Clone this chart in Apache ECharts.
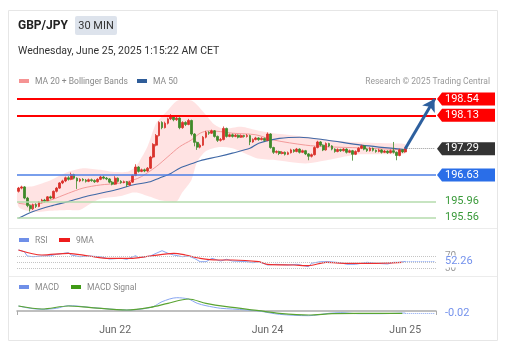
<!DOCTYPE html>
<html><head><meta charset="utf-8">
<script src="https://cdn.jsdelivr.net/npm/echarts@6/dist/echarts.min.js"></script>
<style>html,body{margin:0;padding:0;background:#fff}#c{width:515px;height:350px}</style>
</head><body><div id="c"></div>
<script>
// ---- data ----
// candles: [open, close, low, high]
const candles = [
[196.22,196.30,196.19,196.33],[196.30,196.33,196.27,196.36],[196.33,196.05,196.02,196.35],[196.05,195.86,195.82,196.08],
[195.86,195.78,195.71,195.89],[195.78,195.88,195.75,195.91],[195.88,195.84,195.80,195.92],[195.84,195.95,195.82,195.97],
[195.95,196.00,195.92,196.03],[196.00,195.97,195.94,196.03],[195.97,196.08,195.95,196.10],[196.08,196.05,196.02,196.11],
[196.05,196.22,196.03,196.24],[196.22,196.30,196.19,196.33],[196.30,196.43,196.28,196.45],[196.43,196.48,196.40,196.51],
[196.48,196.56,196.45,196.59],[196.56,196.52,196.49,196.60],[196.52,196.64,196.50,196.69],[196.64,196.55,196.52,196.66],
[196.55,196.48,196.28,196.57],[196.48,196.52,196.45,196.55],[196.52,196.50,196.47,196.55],[196.50,196.47,196.44,196.53],
[196.47,196.51,196.45,196.54],[196.51,196.49,196.46,196.54],[196.49,196.46,196.43,196.52],[196.46,196.52,196.44,196.55],
[196.52,196.58,196.50,196.61],[196.58,196.55,196.52,196.61],[196.55,196.53,196.50,196.58],[196.53,196.45,196.42,196.55],
[196.45,196.40,196.37,196.48],[196.40,196.55,196.38,196.60],[196.55,196.47,196.44,196.57],[196.47,196.44,196.41,196.50],
[196.44,196.46,196.42,196.49],[196.46,196.38,196.33,196.48],[196.38,196.45,196.36,196.48],[196.45,196.62,196.43,196.64],
[196.62,196.83,196.60,196.90],[196.83,196.72,196.69,196.85],[196.72,196.76,196.70,196.79],[196.76,196.73,196.70,196.79],
[196.73,196.80,196.71,196.83],[196.80,197.08,196.78,197.11],[197.08,197.40,197.05,197.43],[197.38,197.62,197.35,197.66],
[197.62,197.95,197.60,197.98],[197.95,197.82,197.78,197.98],[197.82,197.93,197.80,197.97],[197.93,198.04,197.90,198.07],
[198.04,198.10,198.01,198.16],[198.10,198.02,197.98,198.13],[198.02,198.06,197.99,198.10],[198.06,197.82,197.78,198.08],
[197.82,197.95,197.79,197.98],[197.95,197.90,197.86,197.98],[197.90,198.00,197.88,198.04],[198.00,197.66,197.62,198.02],
[197.66,197.45,197.35,197.68],[197.45,197.33,197.26,197.47],[197.33,197.38,197.30,197.42],[197.38,197.58,197.36,197.61],
[197.58,197.70,197.55,197.74],[197.70,197.68,197.64,197.73],[197.68,197.74,197.66,197.77],[197.74,197.60,197.57,197.76],
[197.60,197.50,197.46,197.62],[197.50,197.52,197.47,197.56],[197.52,197.80,197.50,197.85],[197.80,197.60,197.57,197.82],
[197.60,197.64,197.58,197.67],[197.64,197.60,197.57,197.67],[197.60,197.63,197.58,197.66],[197.63,197.58,197.55,197.65],
[197.58,197.62,197.56,197.65],[197.62,197.60,197.57,197.64],[197.60,197.62,197.57,197.66],[197.62,197.46,197.38,197.64],
[197.46,197.52,197.44,197.55],[197.52,197.56,197.50,197.59],[197.56,197.52,197.49,197.58],[197.52,197.55,197.50,197.58],
[197.55,197.50,197.47,197.57],[197.50,197.66,197.48,197.70],[197.66,197.32,197.29,197.68],[197.32,197.20,197.16,197.34],
[197.20,197.22,197.17,197.25],[197.22,197.17,197.13,197.24],[197.17,197.20,197.15,197.23],[197.20,197.15,197.12,197.22],
[197.15,197.19,197.13,197.22],[197.19,197.26,197.17,197.29],[197.26,197.22,197.19,197.28],[197.22,197.28,197.20,197.31],
[197.28,197.20,197.17,197.30],[197.20,197.24,197.18,197.27],[197.24,197.16,197.13,197.26],[197.16,197.10,197.00,197.18],
[197.10,197.14,197.07,197.17],[197.14,197.32,197.12,197.35],[197.32,197.46,197.30,197.49],[197.46,197.38,197.35,197.48],
[197.38,197.26,197.23,197.40],[197.26,197.42,197.24,197.45],[197.42,197.36,197.33,197.44],[197.36,197.28,197.25,197.38],
[197.28,197.22,197.19,197.30],[197.22,197.27,197.20,197.30],[197.27,197.24,197.21,197.29],[197.24,197.28,197.22,197.31],
[197.28,197.20,197.17,197.30],[197.20,197.24,197.18,197.27],[197.24,197.15,196.99,197.26],[197.15,197.22,197.13,197.25],
[197.22,197.30,197.20,197.33],[197.30,197.36,197.28,197.39],[197.36,197.28,197.25,197.38],[197.28,197.24,197.21,197.30],
[197.24,197.30,197.22,197.33],[197.30,197.25,197.22,197.32],[197.25,197.22,197.19,197.27],[197.22,197.26,197.20,197.29],
[197.26,197.20,197.17,197.28],[197.20,197.23,197.18,197.26],[197.23,197.19,197.16,197.25],[197.19,197.24,197.17,197.27],
[197.24,197.20,197.17,197.46],[197.20,197.12,197.00,197.22],[197.12,197.26,197.10,197.29],[197.26,197.21,197.18,197.28],
[197.21,197.29,197.19,197.31]
];
const slotCount = 143;                 // candle slots incl. empty projection space
const tickIndex = [33, 85, 132];
const tickLabels = ['Jun 22', 'Jun 24', 'Jun 25'];

const ma20 = [[0,195.92],[5,195.88],[11,196.00],[17,196.17],[22,196.30],[28,196.38],[34,196.42],[39,196.50],[42,196.59],
  [47,196.84],[51,197.09],[55,197.34],[59,197.51],[62,197.68],[65,197.74],[69,197.72],[73,197.68],[81,197.64],[87,197.51],
  [98,197.38],[105,197.34],[117,197.31],[132,197.26]];
const ma50 = [[0,195.54],[5,195.71],[11,195.85],[17,195.96],[22,196.07],[28,196.17],[34,196.27],[39,196.38],[45,196.46],
  [48,196.55],[52,196.67],[55,196.80],[59,196.91],[62,196.99],[68,197.09],[73,197.18],[79,197.30],[82,197.43],[89,197.55],
  [96,197.58],[105,197.51],[117,197.38],[132,197.27]];
const bbUpper = [[0,196.30],[5,196.35],[11,196.50],[17,196.71],[22,196.80],[28,196.76],[32,196.71],[37,196.71],[40,196.84],
  [44,197.34],[47,197.93],[51,198.26],[54,198.49],[57,198.54],[60,198.46],[64,198.14],[67,197.89],[70,197.79],[76,197.84],
  [82,197.74],[87,197.68],[98,197.59],[106,197.51],[116,197.45],[128,197.42],[132,197.40]];
const bbLower = [[0,195.83],[5,195.70],[11,195.73],[17,195.75],[21,195.75],[24,195.88],[28,196.03],[35,196.10],[39,196.19],
  [41,196.18],[45,196.08],[48,196.00],[52,195.96],[54,195.96],[56,196.20],[59,196.50],[61,196.96],[64,197.23],[68,197.33],
  [73,197.30],[81,197.06],[87,197.01],[98,196.92],[106,197.01],[112,197.10],[116,197.15],[128,197.15],[132,197.17]];

const rsi = [[0,89.5],[2,84.0],[3,70],[5,67.7],[8,70],[11,71],[13,75.5],[17,80.7],[18,73.3],[21,67.7],[24,70],[28,67.7],
  [31,60.2],[35,62.5],[37,59.3],[40,71],[41,64.5],[45,70],[47,78.8],[49,87.2],[51,78.8],[53,73.3],[56,67.7],[58,70],
  [60,62.5],[62,51.5],[64,51.5],[66,62.5],[69,53.7],[71,59.3],[73,53.7],[78,51.5],[80,48.2],[82,51.5],[85,40.7],[88,43],
  [92,40.7],[95,43],[99,35.2],[100,46.3],[103,51.5],[106,51.5],[110,48.2],[112,43],[115,43],[119,49.5],[122,46.3],
  [126,44],[128,49.5],[130,49.5],[132,52.26]];
const rsiMa = [[0,89.5],[8,73.3],[17,78.8],[24,70],[31,62.5],[39,62.5],[45,70],[53,78.8],[57,73.3],[62,62.5],[68,57],
  [73,57],[82,51.5],[85,43],[94,40.7],[99,38.5],[105,49.5],[112,46.3],[120,46.3],[131,49.5]];
const rsiLevels = [70, 50, 30];
const rsiLast = 52.26;

const macd = [[0,0.05],[4,0.027],[8,0.017],[13,0.027],[17,0.053],[20,0.05],[24,0.037],[31,0.02],[37,0.01],[42,0.02],
  [46,0.043],[49,0.093],[54,0.133],[58,0.12],[61,0.077],[64,0.053],[69,0.027],[73,0.02],[78,0.01],[82,0.0],[89,-0.033],
  [99,-0.047],[106,-0.023],[110,-0.017],[116,-0.027],[123,-0.027],[132,-0.02]];
const macdSignal = [[0,0.05],[8,0.02],[17,0.05],[24,0.037],[37,0.01],[45,0.037],[51,0.077],[58,0.12],[64,0.077],
  [71,0.043],[82,0.003],[89,-0.023],[99,-0.04],[107,-0.027],[116,-0.023],[131,-0.023]];
const macdLast = -0.02;

const resistanceLevels = [198.54, 198.13];
const lastPrice = 197.29;
const supportLevels = [196.63];
const minorSupport = [195.96, 195.56];
const targetPrice = 198.54;

// ---- chart ----
const FONT = 'Roboto, "Liberation Sans", sans-serif';
const cats = Array.from({length: slotCount}, (_, i) => String(i));
const lastIdx = candles.length - 1;
const endIdx = slotCount - 1;

const tags = [
  {v: resistanceLevels[0], bg: '#ff0000'},
  {v: resistanceLevels[1], bg: '#ff0000'},
  {v: lastPrice, bg: '#333333'},
  {v: supportLevels[0], bg: '#2a6ee8'},
  {v: minorSupport[0], color: '#3a9a3a'},
  {v: minorSupport[1], color: '#3a9a3a'}
];

function tagItem(params, api) {
  const t = tags[params.dataIndex];
  const y = api.coord([0, t.v])[1];
  const cs = params.coordSys;
  const x0 = cs.x + cs.width + 1;
  if (t.bg) {
    return {type: 'group', children: [
      {type: 'polygon', shape: {points: [[x0, y], [x0 + 5, y - 6.5], [x0 + 58, y - 6.5], [x0 + 58, y + 6.5], [x0 + 5, y + 6.5]]},
        style: {fill: t.bg}},
      {type: 'text', x: x0 + 8, y: y, style: {text: t.v.toFixed(2), fill: '#fff', font: '11px ' + FONT, verticalAlign: 'middle', align: 'left'}}
    ]};
  }
  return {type: 'text', x: x0 + 8, y: y, style: {text: t.v.toFixed(2), fill: t.color, font: '11px ' + FONT, verticalAlign: 'middle', align: 'left'}};
}

function bandItem(params, api) {
  const pts = bbUpper.map(p => api.coord(p)).concat(bbLower.slice().reverse().map(p => api.coord(p)));
  return {type: 'polygon', shape: {points: pts, smooth: 0.25}, style: {fill: 'rgba(255,70,70,0.15)'}};
}

const rsiTags = [
  {v: 70, text: '70', color: '#999', size: 10},
  {v: 30, text: '30', color: '#999', size: 10},
  {v: rsiLast, text: rsiLast.toFixed(2), color: '#7391ec', size: 11, bg: '#fff'}
];
function rsiTagItem(params, api) {
  const t = rsiTags[params.dataIndex];
  const y = api.coord([0, t.v])[1];
  const cs = params.coordSys;
  const x0 = cs.x + cs.width + 1;
  const st = {text: t.text, fill: t.color, font: t.size + 'px ' + FONT, verticalAlign: 'middle', align: 'left'};
  if (t.bg) { st.backgroundColor = t.bg; st.padding = [1, 2, 0, 0]; }
  return {type: 'text', x: x0 + 8, y: y, style: st};
}
function macdTagItem(params, api) {
  const y = api.coord([0, macdLast])[1];
  const cs = params.coordSys;
  return {type: 'text', x: cs.x + cs.width + 9, y: y, style: {text: macdLast.toFixed(2), fill: '#7391ec', font: '11px ' + FONT, verticalAlign: 'middle'}};
}

const gl = 17, gw = 419;
const hidden = {show: false};
const chart = echarts.init(document.getElementById('c'), null, {renderer: 'canvas'});
chart.setOption({
  animation: false,
  backgroundColor: '#fff',
  textStyle: {fontFamily: FONT},
  grid: [
    {left: gl, top: 90, width: gw, height: 135},
    {left: gl, top: 245, width: gw, height: 28},
    {left: gl, top: 285, width: gw, height: 33}
  ],
  xAxis: [
    {type: 'category', gridIndex: 0, data: cats, boundaryGap: true, show: false},
    {type: 'category', gridIndex: 1, data: cats, boundaryGap: true, show: false},
    {type: 'category', gridIndex: 2, data: cats, boundaryGap: true,
      axisLine: {show: true, lineStyle: {color: '#aaa', width: 1.5}},
      axisTick: {show: true, length: 4, interval: (i) => i === 0, lineStyle: {color: '#aaa'}},
      axisLabel: {interval: (i) => tickIndex.includes(i), formatter: (v, i) => tickLabels[tickIndex.indexOf(Number(v))] || '',
        color: '#666', fontSize: 10.5, margin: 7, fontFamily: FONT},
      splitLine: hidden}
  ],
  yAxis: [
    {type: 'value', gridIndex: 0, min: 195.373, max: 198.766, show: false, splitLine: hidden},
    {type: 'value', gridIndex: 1, min: 14.72, max: 105.77, show: false, splitLine: hidden},
    {type: 'value', gridIndex: 2, min: -0.07, max: 0.26, show: false, splitLine: hidden}
  ],
  series: [
    {type: 'custom', xAxisIndex: 0, yAxisIndex: 0, renderItem: bandItem, data: [[0, 197]], z: 1, silent: true},
    {type: 'line', xAxisIndex: 0, yAxisIndex: 0, data: ma20, showSymbol: false, smooth: 0.3, z: 2,
      lineStyle: {color: '#f39a9a', width: 1}, silent: true},
    {type: 'line', xAxisIndex: 0, yAxisIndex: 0, data: ma50, showSymbol: false, smooth: 0.3, z: 2,
      lineStyle: {color: '#3f68a6', width: 1.1}, silent: true},
    {type: 'candlestick', xAxisIndex: 0, yAxisIndex: 0, data: candles, barWidth: 2.2, z: 3,
      itemStyle: {color: '#d9312b', color0: '#3f8a2a', borderColor: '#d9312b', borderColor0: '#3f8a2a', borderWidth: 0.8},
      markLine: {silent: true, symbol: 'none', label: {show: false}, animation: false,
        data: [
          {yAxis: resistanceLevels[0], lineStyle: {color: '#ff0000', width: 2, type: 'solid'}},
          {yAxis: resistanceLevels[1], lineStyle: {color: '#ff0000', width: 2, type: 'solid'}},
          {yAxis: supportLevels[0], lineStyle: {color: '#4d7fe6', width: 1.5, type: 'solid'}},
          {yAxis: minorSupport[0], lineStyle: {color: '#b4dbad', width: 1.5, type: 'solid'}},
          {yAxis: minorSupport[1], lineStyle: {color: '#b4dbad', width: 1.5, type: 'solid'}},
          [{coord: [lastIdx, lastPrice], lineStyle: {color: '#999', width: 1, type: 'dotted'}}, {coord: [endIdx, lastPrice]}],
          [{coord: [lastIdx, lastPrice], symbol: 'none', lineStyle: {color: '#2d5f9e', width: 3, type: 'solid'}},
           {coord: [endIdx, targetPrice], symbol: 'arrow', symbolSize: [11, 12]}]
        ]}},
    {type: 'custom', xAxisIndex: 0, yAxisIndex: 0, renderItem: tagItem, data: tags.map(t => [endIdx, t.v]), z: 10, silent: true},

    {type: 'line', xAxisIndex: 1, yAxisIndex: 1, data: rsi, showSymbol: false, z: 3,
      lineStyle: {color: '#88a6f2', width: 1}, silent: true,
      markLine: {silent: true, symbol: 'none', label: {show: false}, animation: false,
        data: rsiLevels.map(v => ({yAxis: v, lineStyle: {color: '#c4c4c4', width: 1, type: 'dotted'}})).concat([
          [{coord: [lastIdx, rsiLast], lineStyle: {color: '#88a6f2', width: 1, type: 'dotted'}}, {coord: [endIdx, rsiLast]}]
        ])}},
    {type: 'line', xAxisIndex: 1, yAxisIndex: 1, data: rsiMa, showSymbol: false, smooth: 0.3, z: 4,
      lineStyle: {color: '#ee2e2e', width: 1.2}, silent: true},
    {type: 'custom', xAxisIndex: 1, yAxisIndex: 1, renderItem: rsiTagItem, data: rsiTags.map(t => [endIdx, t.v]), z: 10, silent: true},

    {type: 'line', xAxisIndex: 2, yAxisIndex: 2, data: macd, showSymbol: false, smooth: 0.3, z: 3,
      lineStyle: {color: '#88a6f2', width: 1}, silent: true,
      markLine: {silent: true, symbol: 'none', label: {show: false}, animation: false,
        data: [[{coord: [lastIdx, macdLast], lineStyle: {color: '#88a6f2', width: 1, type: 'dotted'}}, {coord: [endIdx, macdLast]}]]}},
    {type: 'line', xAxisIndex: 2, yAxisIndex: 2, data: macdSignal, showSymbol: false, smooth: 0.3, z: 3,
      lineStyle: {color: '#5aa432', width: 1.2}, silent: true},
    {type: 'custom', xAxisIndex: 2, yAxisIndex: 2, renderItem: macdTagItem, data: [[endIdx, macdLast]], z: 10, silent: true}
  ],
  graphic: [
    {type: 'rect', shape: {x: 8.5, y: 10.5, width: 489, height: 330}, style: {fill: 'none', stroke: '#e6e6e6', lineWidth: 1}, z: -10, silent: true},
    {type: 'line', shape: {x1: 9, y1: 228.5, x2: 497, y2: 228.5}, style: {stroke: '#ececec', lineWidth: 1}, silent: true},
    {type: 'line', shape: {x1: 9, y1: 276.5, x2: 497, y2: 276.5}, style: {stroke: '#ececec', lineWidth: 1}, silent: true},
    {type: 'text', x: 18, y: 26, style: {text: 'GBP/JPY', font: 'bold 12px ' + FONT, fill: '#222', verticalAlign: 'middle'}, silent: true},
    {type: 'rect', shape: {x: 75, y: 16, width: 42, height: 19, r: 2}, style: {fill: '#dde3ec'}, silent: true},
    {type: 'text', x: 96, y: 26, style: {text: '30 MIN', font: '11px ' + FONT, fill: '#333', align: 'center', verticalAlign: 'middle'}, silent: true},
    {type: 'text', x: 18, y: 51, style: {text: 'Wednesday, June 25, 2025 1:15:22 AM CET', font: '10.5px ' + FONT, fill: '#333', verticalAlign: 'middle'}, silent: true},
    {type: 'rect', shape: {x: 19, y: 79, width: 10, height: 4}, style: {fill: '#f59393'}, silent: true},
    {type: 'text', x: 35, y: 81.5, style: {text: 'MA 20 + Bollinger Bands', font: '8.5px ' + FONT, fill: '#888', verticalAlign: 'middle'}, silent: true},
    {type: 'rect', shape: {x: 137, y: 79, width: 10, height: 4}, style: {fill: '#2f5d99'}, silent: true},
    {type: 'text', x: 153, y: 81.5, style: {text: 'MA 50', font: '8.5px ' + FONT, fill: '#888', verticalAlign: 'middle'}, silent: true},
    {type: 'text', x: 490, y: 81.5, style: {text: 'Research © 2025 Trading Central', font: '8.5px ' + FONT, fill: '#999', align: 'right', verticalAlign: 'middle'}, silent: true},
    {type: 'rect', shape: {x: 19, y: 238, width: 10, height: 4}, style: {fill: '#6f8fe8'}, silent: true},
    {type: 'text', x: 35, y: 240.5, style: {text: 'RSI', font: '8.5px ' + FONT, fill: '#888', verticalAlign: 'middle'}, silent: true},
    {type: 'rect', shape: {x: 59, y: 238, width: 11, height: 4}, style: {fill: '#ee1c1c'}, silent: true},
    {type: 'text', x: 76, y: 240.5, style: {text: '9MA', font: '8.5px ' + FONT, fill: '#888', verticalAlign: 'middle'}, silent: true},
    {type: 'rect', shape: {x: 19, y: 285, width: 10, height: 4}, style: {fill: '#6f8fe8'}, silent: true},
    {type: 'text', x: 35, y: 287.5, style: {text: 'MACD', font: '8.5px ' + FONT, fill: '#888', verticalAlign: 'middle'}, silent: true},
    {type: 'rect', shape: {x: 71, y: 285, width: 10, height: 4}, style: {fill: '#3f9a16'}, silent: true},
    {type: 'text', x: 87, y: 287.5, style: {text: 'MACD Signal', font: '8.5px ' + FONT, fill: '#888', verticalAlign: 'middle'}, silent: true}
  ]
});
</script>
</body></html>
